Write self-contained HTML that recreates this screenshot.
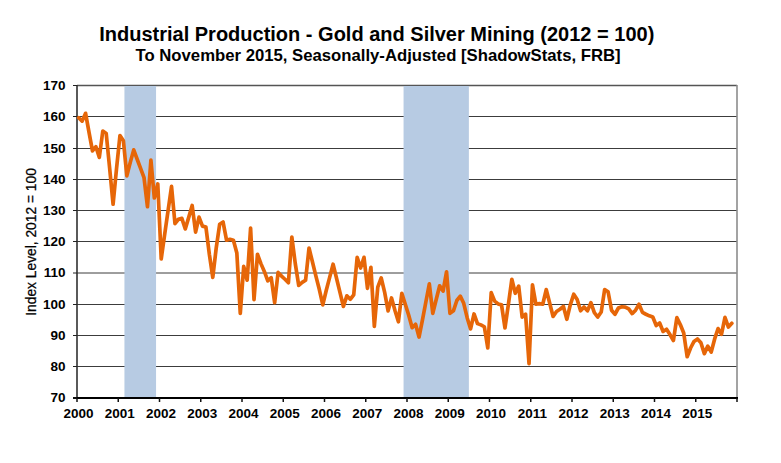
<!DOCTYPE html>
<html><head><meta charset="utf-8">
<style>
html,body{margin:0;padding:0;background:#fff;}
body{width:781px;height:463px;overflow:hidden;}
svg{display:block;}
text{font-family:"Liberation Sans",sans-serif;font-weight:bold;fill:#000;}
.t{font-size:13.5px;}
</style></head><body>
<svg width="781" height="463" viewBox="0 0 781 463">
<rect width="781" height="463" fill="#fff"/>
<text x="99.2" y="41.0" style="font-size:20px">Industrial Production - Gold and Silver Mining (2012 = 100)</text>
<text x="135.5" y="61.2" style="font-size:16.72px">To November 2015, Seasonally-Adjusted [ShadowStats, FRB]</text>
<line x1="77" y1="366.5" x2="737" y2="366.5" stroke="#3c3c3c" stroke-width="1"/>
<line x1="77" y1="335.5" x2="737" y2="335.5" stroke="#3c3c3c" stroke-width="1"/>
<line x1="77" y1="304.5" x2="737" y2="304.5" stroke="#3c3c3c" stroke-width="1"/>
<line x1="77" y1="273.0" x2="737" y2="273.0" stroke="#3c3c3c" stroke-width="1"/>
<line x1="77" y1="241.5" x2="737" y2="241.5" stroke="#3c3c3c" stroke-width="1"/>
<line x1="77" y1="210.5" x2="737" y2="210.5" stroke="#3c3c3c" stroke-width="1"/>
<line x1="77" y1="179.5" x2="737" y2="179.5" stroke="#3c3c3c" stroke-width="1"/>
<line x1="77" y1="148.5" x2="737" y2="148.5" stroke="#3c3c3c" stroke-width="1"/>
<line x1="77" y1="116.5" x2="737" y2="116.5" stroke="#3c3c3c" stroke-width="1"/>
<line x1="77" y1="85.5" x2="737" y2="85.5" stroke="#555" stroke-width="1.3"/>
<rect x="124.44" y="86" width="31.62" height="312" fill="#b7cbe3"/>
<rect x="403.56" y="86" width="65.31" height="312" fill="#b7cbe3"/>
<line x1="737" y1="85" x2="737" y2="398" stroke="#8c8c8c" stroke-width="1.6"/>
<line x1="77" y1="85" x2="77" y2="398" stroke="#303030" stroke-width="1.6"/>
<line x1="73" y1="398" x2="738" y2="398" stroke="#000" stroke-width="2"/>
<text x="65.5" y="402.10" text-anchor="end" class="t">70</text>
<line x1="73" y1="398.0" x2="77" y2="398.0" stroke="#222" stroke-width="1"/>
<text x="65.5" y="370.60" text-anchor="end" class="t">80</text>
<line x1="73" y1="366.5" x2="77" y2="366.5" stroke="#222" stroke-width="1"/>
<text x="65.5" y="339.60" text-anchor="end" class="t">90</text>
<line x1="73" y1="335.5" x2="77" y2="335.5" stroke="#222" stroke-width="1"/>
<text x="65.5" y="308.60" text-anchor="end" class="t">100</text>
<line x1="73" y1="304.5" x2="77" y2="304.5" stroke="#222" stroke-width="1"/>
<text x="65.5" y="277.10" text-anchor="end" class="t">110</text>
<line x1="73" y1="273.0" x2="77" y2="273.0" stroke="#222" stroke-width="1"/>
<text x="65.5" y="245.60" text-anchor="end" class="t">120</text>
<line x1="73" y1="241.5" x2="77" y2="241.5" stroke="#222" stroke-width="1"/>
<text x="65.5" y="214.60" text-anchor="end" class="t">130</text>
<line x1="73" y1="210.5" x2="77" y2="210.5" stroke="#222" stroke-width="1"/>
<text x="65.5" y="183.60" text-anchor="end" class="t">140</text>
<line x1="73" y1="179.5" x2="77" y2="179.5" stroke="#222" stroke-width="1"/>
<text x="65.5" y="152.60" text-anchor="end" class="t">150</text>
<line x1="73" y1="148.5" x2="77" y2="148.5" stroke="#222" stroke-width="1"/>
<text x="65.5" y="120.60" text-anchor="end" class="t">160</text>
<line x1="73" y1="116.5" x2="77" y2="116.5" stroke="#222" stroke-width="1"/>
<text x="65.5" y="89.60" text-anchor="end" class="t">170</text>
<line x1="73" y1="85.5" x2="77" y2="85.5" stroke="#222" stroke-width="1"/>
<line x1="77.00" y1="398" x2="77.00" y2="402" stroke="#111" stroke-width="1.5"/>
<text x="78.60" y="418.1" text-anchor="middle" class="t">2000</text>
<line x1="118.25" y1="398" x2="118.25" y2="402" stroke="#111" stroke-width="1.5"/>
<text x="119.85" y="418.1" text-anchor="middle" class="t">2001</text>
<line x1="159.50" y1="398" x2="159.50" y2="402" stroke="#111" stroke-width="1.5"/>
<text x="161.10" y="418.1" text-anchor="middle" class="t">2002</text>
<line x1="200.75" y1="398" x2="200.75" y2="402" stroke="#111" stroke-width="1.5"/>
<text x="202.35" y="418.1" text-anchor="middle" class="t">2003</text>
<line x1="242.00" y1="398" x2="242.00" y2="402" stroke="#111" stroke-width="1.5"/>
<text x="243.60" y="418.1" text-anchor="middle" class="t">2004</text>
<line x1="283.25" y1="398" x2="283.25" y2="402" stroke="#111" stroke-width="1.5"/>
<text x="284.85" y="418.1" text-anchor="middle" class="t">2005</text>
<line x1="324.50" y1="398" x2="324.50" y2="402" stroke="#111" stroke-width="1.5"/>
<text x="326.10" y="418.1" text-anchor="middle" class="t">2006</text>
<line x1="365.75" y1="398" x2="365.75" y2="402" stroke="#111" stroke-width="1.5"/>
<text x="367.35" y="418.1" text-anchor="middle" class="t">2007</text>
<line x1="407.00" y1="398" x2="407.00" y2="402" stroke="#111" stroke-width="1.5"/>
<text x="408.60" y="418.1" text-anchor="middle" class="t">2008</text>
<line x1="448.25" y1="398" x2="448.25" y2="402" stroke="#111" stroke-width="1.5"/>
<text x="449.85" y="418.1" text-anchor="middle" class="t">2009</text>
<line x1="489.50" y1="398" x2="489.50" y2="402" stroke="#111" stroke-width="1.5"/>
<text x="491.10" y="418.1" text-anchor="middle" class="t">2010</text>
<line x1="530.75" y1="398" x2="530.75" y2="402" stroke="#111" stroke-width="1.5"/>
<text x="532.35" y="418.1" text-anchor="middle" class="t">2011</text>
<line x1="572.00" y1="398" x2="572.00" y2="402" stroke="#111" stroke-width="1.5"/>
<text x="573.60" y="418.1" text-anchor="middle" class="t">2012</text>
<line x1="613.25" y1="398" x2="613.25" y2="402" stroke="#111" stroke-width="1.5"/>
<text x="614.85" y="418.1" text-anchor="middle" class="t">2013</text>
<line x1="654.50" y1="398" x2="654.50" y2="402" stroke="#111" stroke-width="1.5"/>
<text x="656.10" y="418.1" text-anchor="middle" class="t">2014</text>
<line x1="695.75" y1="398" x2="695.75" y2="402" stroke="#111" stroke-width="1.5"/>
<text x="697.35" y="418.1" text-anchor="middle" class="t">2015</text>
<line x1="737.00" y1="398" x2="737.00" y2="402" stroke="#111" stroke-width="1.5"/>
<text transform="translate(36.2 315.8) rotate(-90)" style="font-size:13.8px;font-weight:normal;stroke:#000;stroke-width:0.25px">Index Level, 2012 = 100</text>
<polyline points="78.72,117.69 82.16,121.12 85.59,113.31 89.03,132.38 92.47,150.81 95.91,146.75 99.34,157.38 102.78,131.12 106.22,133.62 109.66,168.31 113.09,204.25 116.53,168.62 119.97,135.50 123.41,140.81 126.84,175.81 130.28,162.38 133.72,149.88 137.16,159.25 140.59,168.31 144.03,177.69 147.47,206.75 150.91,160.19 154.34,198.00 157.78,183.94 161.22,258.94 164.66,234.56 168.09,210.50 171.53,186.44 174.97,223.62 178.41,219.25 181.84,218.31 185.28,228.94 188.72,217.38 192.16,205.50 195.59,232.06 199.03,217.06 202.47,226.12 205.91,227.06 209.34,254.25 212.78,277.38 216.22,248.00 219.66,224.25 223.09,222.06 226.53,240.19 229.97,239.25 233.41,240.19 236.84,253.00 240.28,313.31 243.72,266.44 247.16,280.19 250.59,228.00 254.03,299.56 257.47,254.25 260.91,263.62 264.34,271.44 267.78,280.81 271.22,277.69 274.66,302.69 278.09,272.38 281.53,276.12 284.97,279.25 288.41,282.69 291.84,237.06 295.28,263.62 298.72,285.50 302.16,282.38 305.59,280.19 309.03,248.00 312.47,262.06 315.91,276.12 319.34,289.56 322.78,304.88 326.22,290.50 329.66,277.38 333.09,264.25 336.53,278.31 339.97,292.38 343.41,306.44 346.84,295.81 350.28,299.25 353.72,294.88 357.16,257.38 360.59,268.00 364.03,257.38 367.47,288.31 370.91,267.38 374.34,326.44 377.78,287.06 381.22,278.00 384.66,292.38 388.09,310.81 391.53,298.00 394.97,310.50 398.41,321.75 401.84,293.31 405.28,304.25 408.72,315.19 412.16,327.69 415.59,324.25 419.03,337.06 422.47,319.88 425.91,301.75 429.34,283.94 432.78,313.31 436.22,299.56 439.66,285.81 443.09,291.12 446.53,271.75 449.97,313.31 453.41,310.81 456.84,300.50 460.28,296.12 463.72,303.31 467.16,317.69 470.59,328.94 474.03,313.94 477.47,323.62 480.91,324.88 484.34,326.75 487.78,348.00 491.22,292.69 494.66,301.12 498.09,303.94 501.53,304.88 504.97,328.00 508.41,304.25 511.84,279.25 515.28,293.31 518.72,286.12 522.16,317.06 525.59,314.25 529.03,363.62 532.47,284.88 535.91,304.25 539.34,303.62 542.78,304.25 546.22,289.56 549.66,303.00 553.09,316.44 556.53,311.44 559.97,309.25 563.41,306.44 566.84,319.25 570.28,304.88 573.72,294.25 577.16,299.56 580.59,310.81 584.03,307.06 587.47,310.81 590.91,302.69 594.34,312.69 597.78,317.06 601.22,312.06 604.66,289.56 608.09,291.75 611.53,310.19 614.97,314.25 618.41,308.00 621.84,306.75 625.28,307.06 628.72,308.94 632.16,313.62 635.59,310.19 639.03,304.25 642.47,312.38 645.91,314.25 649.34,315.81 652.78,317.06 656.22,325.50 659.66,323.00 663.09,331.44 666.53,329.25 669.97,334.56 673.41,340.50 676.84,317.69 680.28,324.56 683.72,333.00 687.16,356.75 690.59,348.00 694.03,341.44 697.47,338.94 700.91,342.69 704.34,353.62 707.78,346.12 711.22,352.06 714.66,338.94 718.09,328.62 721.53,334.25 724.97,317.38 728.41,327.06 731.84,323.31" fill="none" stroke="#e66608" stroke-width="3.7" stroke-linejoin="round" stroke-linecap="round"/>
</svg>
</body></html>
